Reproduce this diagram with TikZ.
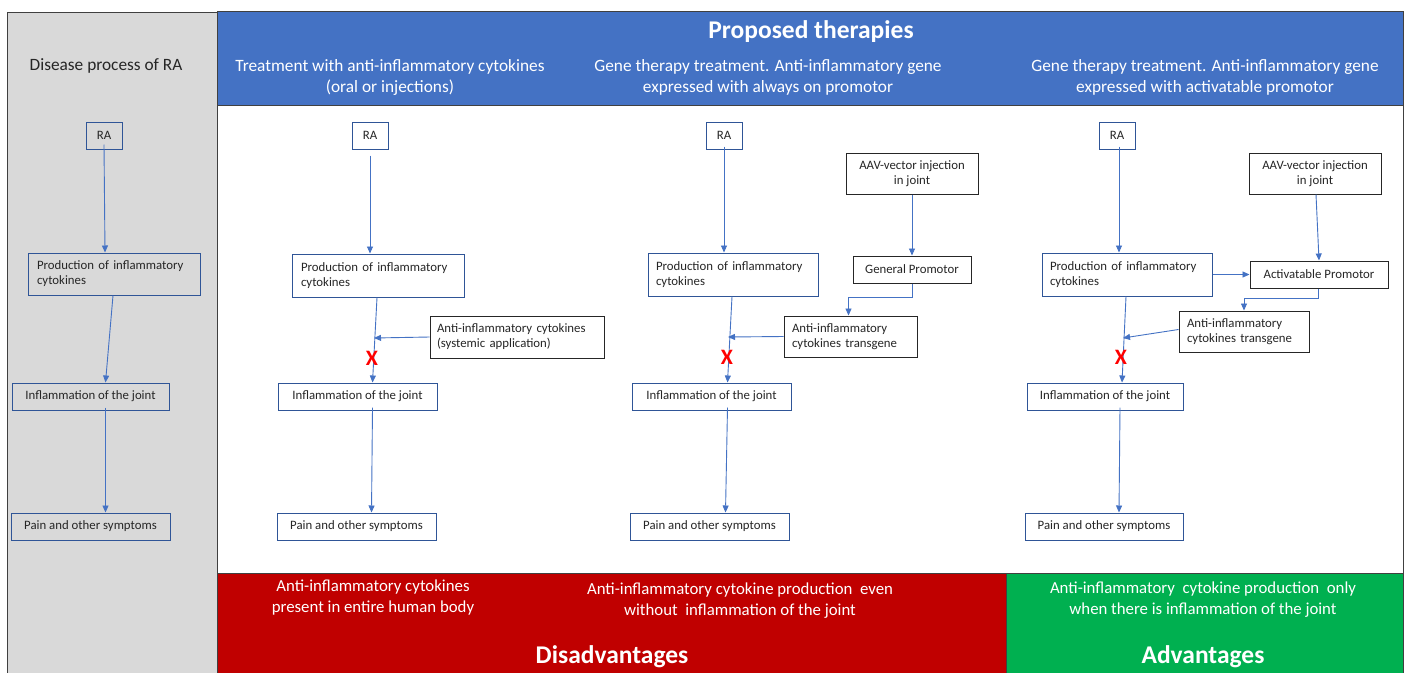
\documentclass[tikz,border=0pt]{standalone}
\usepackage{fontspec}
\setmainfont{Carlito}
\usetikzlibrary{arrows.meta,calc}
\definecolor{hdrblue}{HTML}{4472C4}
\definecolor{boxblue}{HTML}{2F5597}
\definecolor{panelgray}{HTML}{D9D9D9}
\definecolor{framegray}{HTML}{404040}
\definecolor{disred}{HTML}{C00000}
\definecolor{advgreen}{HTML}{00B050}
\definecolor{txt}{HTML}{262626}
\begin{document}
\begin{tikzpicture}[x=1pt,y=-1pt,
  bbox/.style={draw=boxblue,line width=1pt,fill=white,text=txt,font=\fontsize{12.8}{15}\selectfont,inner sep=2pt},
  kbox/.style={draw=black!85,line width=1pt,fill=white,text=txt,font=\fontsize{12.8}{15}\selectfont,inner sep=2pt},
  graybox/.style={bbox,fill=none},
  conn/.style={draw=hdrblue,line width=0.9pt,-{Triangle[length=7pt,width=6pt]}},
  hdr/.style={text=white,font=\fontsize{17.3}{21}\selectfont,align=center},
  ttl/.style={text=white,font=\bfseries\fontsize{25.5}{28}\selectfont},
  btxt/.style={text=white,font=\fontsize{16.8}{21}\selectfont,align=center},
  cross/.style={text=red,font=\bfseries\fontsize{22}{22}\selectfont,inner sep=0pt}
]
\useasboundingbox (0,0) rectangle (1405,672);
\fill[white] (0,0) rectangle (1405,672);
% panels
\draw[fill=panelgray,draw=framegray,line width=0.8pt] (7,12) rectangle (217,680);
\draw[fill=hdrblue,draw=framegray,line width=0.8pt] (217,11) rectangle (1403,105);
\draw[fill=white,draw=framegray,line width=0.8pt] (217,105) rectangle (1403,573);
\draw[fill=disred,draw=framegray,line width=0.8pt] (217,573) rectangle (1006,680);
\draw[fill=advgreen,draw=framegray,line width=0.8pt] (1006,573) rectangle (1403,680);

% titles
\node[text=txt,font=\fontsize{17.3}{20}\selectfont] (dtitle) at (106,66) {Disease process of RA};
\node[ttl] (ptitle) at (811,32) {Proposed therapies};
\node[hdr] (h1) at (390,77) {Treatment with anti-inflammatory cytokines\\(oral or injections)};
\node[hdr] (h2) at (768,77) {Gene therapy treatment. Anti-inflammatory gene\\expressed with always on promotor};
\node[hdr] (h3) at (1205,77) {Gene therapy treatment. Anti-inflammatory gene\\expressed with activatable promotor};

% column 1
\node[graybox,minimum width=36pt,minimum height=27pt] (ra1) at (104,135.5) {RA};
\node[graybox,minimum width=172pt,minimum height=42pt,text width=154pt,align=left] (pr1) at (114,274) {Production of inflammatory\\cytokines};
\node[graybox,minimum width=157pt,minimum height=27pt] (in1) at (90.5,396.5) {Inflammation of the joint};
\node[graybox,minimum width=159pt,minimum height=27pt] (pa1) at (90.5,526.5) {Pain and other symptoms};
\draw[conn] ([yshift=5pt]ra1.south) -- ([xshift=-9pt]pr1.north);
\draw[conn] ([xshift=-1pt]pr1.south) -- ([xshift=15pt]in1.north);
\draw[conn] ([xshift=15pt,yshift=3pt]in1.south) -- ([xshift=15pt]pa1.north);

% column 2
\node[bbox,minimum width=36pt,minimum height=27pt] (ra2) at (370,135.5) {RA};
\node[bbox,minimum width=172pt,minimum height=43pt,text width=154pt,align=left] (pr2) at (378,275.5) {Production of inflammatory\\cytokines};
\node[kbox,minimum width=174pt,minimum height=42pt,text width=160pt,align=left] (an2) at (517,337) {Anti-inflammatory cytokines\\(systemic application)};
\node[bbox,minimum width=159pt,minimum height=27pt] (in2) at (357.5,396.5) {Inflammation of the joint};
\node[bbox,minimum width=159pt,minimum height=27pt] (pa2) at (356.5,526.5) {Pain and other symptoms};
\coordinate (j2) at (374,338);
\draw[conn] ([yshift=-6pt]ra2.south) -- (ra2.south |- pr2.north);
\draw[conn] ([xshift=-1pt]pr2.south) -- ([xshift=15pt]in2.north);
\draw[conn] (an2.west) -- (j2);
\draw[conn] ([xshift=15pt,yshift=3pt]in2.south) -- ([xshift=15pt]pa2.north);
\node[cross] (x2) at (372,358) {X};

% column 3
\node[bbox,minimum width=36pt,minimum height=27pt] (ra3) at (724,135.5) {RA};
\node[kbox,minimum width=132pt,minimum height=41pt,align=center] (aav3) at (912,173.5) {AAV-vector injection\\in joint};
\node[bbox,minimum width=170pt,minimum height=43pt,text width=154pt,align=left] (pr3) at (733,274.5) {Production of inflammatory\\cytokines};
\node[kbox,minimum width=118pt,minimum height=27pt] (gp3) at (912,269.5) {General Promotor};
\node[kbox,minimum width=133pt,minimum height=41pt,text width=117pt,align=left] (tg3) at (850.5,336.5) {Anti-inflammatory\\cytokines transgene};
\node[bbox,minimum width=159pt,minimum height=27pt] (in3) at (711.5,396.5) {Inflammation of the joint};
\node[bbox,minimum width=159pt,minimum height=27pt] (pa3) at (709.5,526.5) {Pain and other symptoms};
\coordinate (j3) at (728,337);
\draw[conn] ([yshift=3pt]ra3.south) -- (ra3.south |- pr3.north);
\draw[conn] (aav3.south) -- (gp3.north);
\draw[conn] (gp3.south) |- ([xshift=-2pt,yshift=18pt]tg3.north) -- ([xshift=-2pt]tg3.north);
\draw[conn] ([xshift=-1pt]pr3.south) -- ([xshift=16pt]in3.north);
\draw[conn] (tg3.west) -- (j3);
\draw[conn] ([xshift=16pt,yshift=3pt]in3.south) -- ([xshift=16pt]pa3.north);
\node[cross] (x3) at (727,357) {X};

% column 4
\node[bbox,minimum width=36pt,minimum height=27pt] (ra4) at (1117,135.5) {RA};
\node[kbox,minimum width=132pt,minimum height=41pt,align=center] (aav4) at (1315,173.5) {AAV-vector injection\\in joint};
\node[bbox,minimum width=170pt,minimum height=43pt,text width=154pt,align=left] (pr4) at (1127,274.5) {Production of inflammatory\\cytokines};
\node[kbox,minimum width=138pt,minimum height=27pt] (ap4) at (1319,274.5) {Activatable Promotor};
\node[kbox,minimum width=130pt,minimum height=41pt,text width=114pt,align=left] (tg4) at (1244,331.5) {Anti-inflammatory\\cytokines transgene};
\node[bbox,minimum width=156pt,minimum height=27pt] (in4) at (1105,396.5) {Inflammation of the joint};
\node[bbox,minimum width=158pt,minimum height=27pt] (pa4) at (1104,526.5) {Pain and other symptoms};
\coordinate (j4) at (1123,338);
\draw[conn] ([xshift=2pt,yshift=3pt]ra4.south) -- ([xshift=2pt]ra4.south |- pr4.north);
\draw[conn] ([xshift=1pt]aav4.south) -- (ap4.north);
\draw[conn] (pr4.east) -- (ap4.west);
\draw[conn] ([xshift=-1pt]ap4.south) |- ([yshift=12pt]tg4.north) -- (tg4.north);
\draw[conn] ([xshift=-1pt]pr4.south) -- ([xshift=17pt]in4.north);
\draw[conn] ([yshift=2pt]tg4.west) -- (j4);
\draw[conn] ([xshift=15pt,yshift=3pt]in4.south) -- ([xshift=15pt]pa4.north);
\node[cross] (x4) at (1121,357) {X};

% bottom bands
\node[btxt] (d1) at (373,598) {Anti-inflammatory cytokines\\present in entire human body};
\node[btxt] (d2) at (740,601) {Anti-inflammatory cytokine production\ \ even\\without\ \ inflammation of the joint};
\node[ttl] (dis) at (612,657) {Disadvantages};
\node[btxt] (a1) at (1203,600) {Anti-inflammatory\ \ cytokine production\ \ only\\when there is inflammation of the joint};
\node[ttl] (adv) at (1203,657) {Advantages};
\end{tikzpicture}
\end{document}
